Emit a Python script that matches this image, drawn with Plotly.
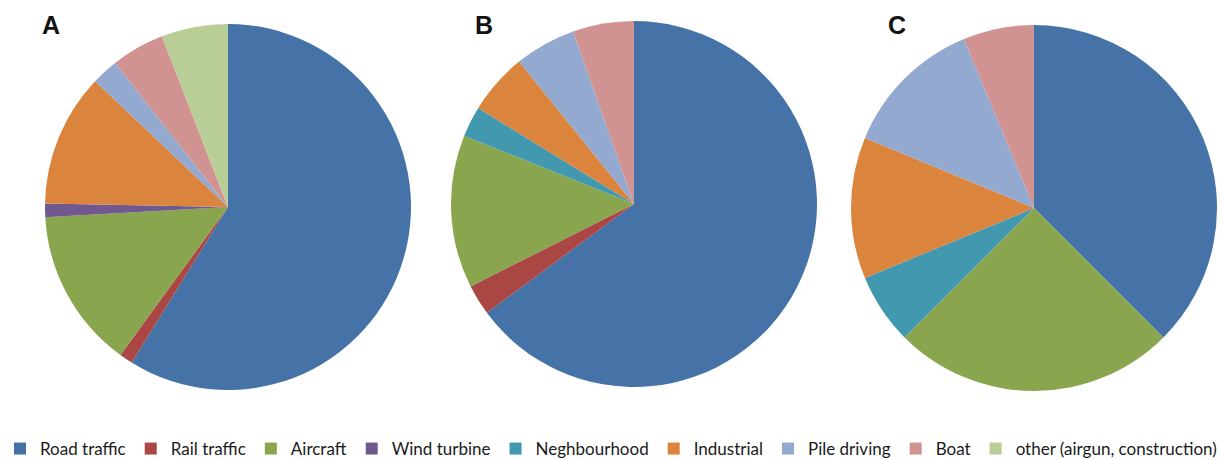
import plotly.graph_objects as go

labels = ["Road traffic", "Rail traffic", "Aircraft", "Wind turbine", "Neghbourhood",
          "Industrial", "Pile driving", "Boat", "other (airgun, construction)"]
colors = ["#4572A7", "#AA4643", "#89A54E", "#71588F", "#4198AF",
          "#DB843D", "#93A9CF", "#D19392", "#B9CD96"]

# counts per panel (order matches labels)
values_A = [50, 1, 12, 1, 0, 10, 2, 4, 5]
values_B = [24, 1, 5, 0, 1, 2, 2, 2, 0]
values_C = [6, 0, 4, 0, 1, 2, 2, 1, 0]
panel_names = ["A", "B", "C"]

W, H = 1223, 460
MB = 44
PH = H - MB  # plot-area height
R = 183
centers = [(228, 207), (634, 204), (1034, 208)]

fig = go.Figure()
for name, vals, (cx, cy) in zip(panel_names, [values_A, values_B, values_C], centers):
    fig.add_trace(go.Pie(
        labels=labels, values=vals, sort=False, direction="clockwise", rotation=0,
        marker=dict(colors=colors, line=dict(width=0)),
        textinfo="none", hoverinfo="label+value+percent", name=name,
        domain=dict(x=[(cx - R) / W, (cx + R) / W], y=[1 - (cy + R) / PH, 1 - (cy - R) / PH]),
    ))

label_pos = [(51, 25), (484, 25), (897, 25)]
for name, (lx, ly) in zip(panel_names, label_pos):
    fig.add_annotation(text=f"<b>{name}</b>", x=lx / W, y=1 - ly / PH, xref="paper", yref="paper",
                       xanchor="center", yanchor="middle", showarrow=False,
                       font=dict(family="Liberation Sans, Arial", size=25, color="#111"))

fig.update_layout(
    width=W, height=H, margin=dict(l=0, r=0, t=0, b=MB),
    paper_bgcolor="white", plot_bgcolor="white",
    legend=dict(orientation="h", x=0, xanchor="left", xref="container",
                y=1 - 449 / H, yanchor="middle", yref="container",
                font=dict(family="Lato, Open Sans, sans-serif", size=17, color="#1a1a1a"),
                traceorder="normal", itemwidth=30),
)
fig.write_html("out.html", config={"displayModeBar": False},
               post_script="document.body.style.margin='0px';")
